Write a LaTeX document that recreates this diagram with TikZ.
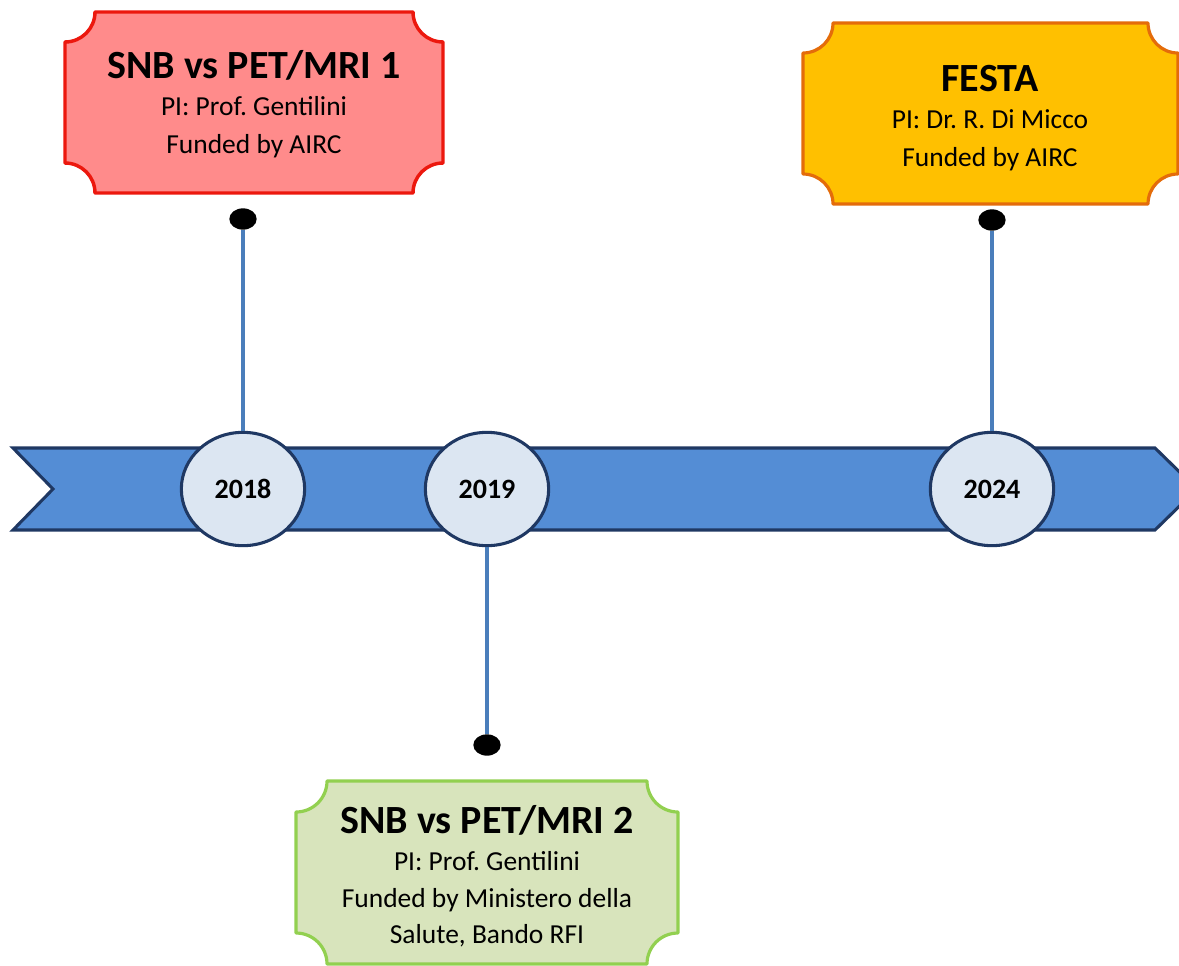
\documentclass[tikz,border=0pt]{standalone}
\usepackage{fontspec}
\setmainfont{Carlito}
\frenchspacing
\usetikzlibrary{shapes.geometric}
\definecolor{redfill}{RGB}{255,139,139}
\definecolor{redline}{RGB}{236,24,14}
\definecolor{orfill}{RGB}{255,192,0}
\definecolor{orline}{RGB}{228,108,10}
\definecolor{grfill}{RGB}{216,228,188}
\definecolor{grline}{RGB}{146,208,80}
\definecolor{bandfill}{RGB}{84,141,213}
\definecolor{navy}{RGB}{31,56,99}
\definecolor{circfill}{RGB}{220,230,242}
\definecolor{stemcol}{RGB}{74,126,187}
% #1 style, #2 x1, #3 y1 (top), #4 x2, #5 y2 (bottom), #6 notch radius
\newcommand\myplaque[6]{%
  \draw[#1] ({#2+#6},#3) -- ({#4-#6},#3)
    .. controls ({#4-#6},{#3+0.5523*#6}) and ({#4-0.5523*#6},{#3+#6}) .. (#4,{#3+#6})
    -- (#4,{#5-#6})
    .. controls ({#4-0.5523*#6},{#5-#6}) and ({#4-#6},{#5-0.5523*#6}) .. ({#4-#6},#5)
    -- ({#2+#6},#5)
    .. controls ({#2+#6},{#5-0.5523*#6}) and ({#2+0.5523*#6},{#5-#6}) .. (#2,{#5-#6})
    -- (#2,{#3+#6})
    .. controls ({#2+0.5523*#6},{#3+#6}) and ({#2+#6},{#3+0.5523*#6}) .. ({#2+#6},#3)
    -- cycle;}
\tikzset{
  redbox/.style={fill=redfill, draw=redline, line width=2.6pt, line join=round},
  orbox/.style={fill=orfill, draw=orline, line width=2.4pt, line join=round},
  grbox/.style={fill=grfill, draw=grline, line width=2.4pt, line join=round},
  band/.style={fill=bandfill, draw=navy, line width=2.3pt, line join=miter},
  yearcirc/.style={ellipse, fill=circfill, draw=navy, line width=2.3pt,
    minimum width=92.5pt, minimum height=85pt, inner sep=0pt,
    font=\fontsize{21}{25}\selectfont\bfseries},
  dotnode/.style={ellipse, fill=black, minimum width=20.5pt, minimum height=16pt, inner sep=0pt},
  stem/.style={draw=stemcol, line width=2.4pt},
  titletext/.style={anchor=base, inner sep=0pt, font=\fontsize{30}{36}\selectfont\bfseries},
  bodytext/.style={anchor=base, inner sep=0pt, font=\fontsize{20.6}{25}\selectfont}
}
\begin{document}
\begin{tikzpicture}[x=0.75pt, y=-0.75pt]
\clip (0,0) rectangle (1179,965);
\fill[white] (0,0) rectangle (1179,965);

% boxes
\myplaque{redbox}{65}{12}{443}{193}{30}
\myplaque{orbox}{803}{23}{1178}{204}{30}
\myplaque{grbox}{296}{781}{678}{964}{31}

\node[titletext] (r1) at (254,78) {SNB vs PET/MRI 1};
\node[bodytext] (r2) at (254,115) {PI: Prof. Gentilini};
\node[bodytext] (r3) at (254,153) {Funded by AIRC};

\node[titletext] (o1) at (990,91) {FESTA};
\node[bodytext] (o2) at (990,128) {PI: Dr. R. Di Micco};
\node[bodytext] (o3) at (990,166) {Funded by AIRC};

\node[titletext] (g1) at (487,833) {SNB vs PET/MRI 2};
\node[bodytext] (g2) at (487,870) {PI: Prof. Gentilini};
\node[bodytext] (g3) at (487,907) {Funded by Ministero della};
\node[bodytext] (g4) at (487,943) {Salute, Bando RFI};

% timeline band
\draw[band] (13,448) -- (1155,448) -- (1197,489) -- (1155,530) -- (13,530) -- (53,489) -- cycle;

% dots
\node[dotnode] (d18) at (243,219) {};
\node[dotnode] (d19) at (487,745) {};
\node[dotnode] (d24) at (992,220) {};

% year circles
\node[yearcirc] (c18) at (243,489) {2018};
\node[yearcirc] (c19) at (487,489) {2019};
\node[yearcirc] (c24) at (992,489) {2024};

% stems
\draw[stem] (d18) -- (c18);
\draw[stem] (c19) -- (d19);
\draw[stem] (d24) -- (c24);
\end{tikzpicture}
\end{document}
